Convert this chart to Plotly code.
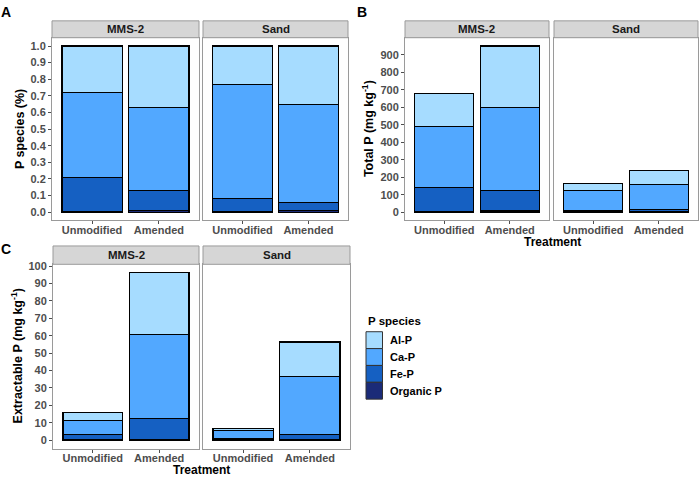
import plotly.graph_objects as go

# ---------------- data ----------------
treatments = ["Unmodified", "Amended"]
soils = ["MMS-2", "Sand"]
species = ["Organic P", "Fe-P", "Ca-P", "Al-P"]          # bottom -> top
species_colors = ["#1B2B78", "#1560C2", "#52A8FF", "#A6DCFF"]

# order of values: MMS-2 Unmodified, MMS-2 Amended, Sand Unmodified, Sand Amended
# Panel A: proportion of P species
prop_organic = [0.004, 0.008, 0.003, 0.008]
prop_fe = [0.206, 0.122, 0.077, 0.052]
prop_ca = [0.51, 0.50, 0.69, 0.59]
prop_al = [0.28, 0.37, 0.23, 0.35]

# Panel B: total P (mg kg-1)
total_organic = [3, 7, 2, 4]
total_fe = [140, 118, 9, 12]
total_ca = [347, 475, 114, 140]
total_al = [190, 350, 38, 83]

# Panel C: extractable P (mg kg-1)
ext_organic = [0.2, 0.6, 0.3, 0.4]
ext_fe = [3.2, 11.9, 0.4, 3.0]
ext_ca = [8.0, 48.0, 5.0, 33.2]
ext_al = [4.6, 35.7, 0.9, 19.8]

a_ticks = [0.0, 0.1, 0.2, 0.3, 0.4, 0.5, 0.6, 0.7, 0.8, 0.9, 1.0]
b_ticks = [0, 100, 200, 300, 400, 500, 600, 700, 800, 900]
c_ticks = [0, 10, 20, 30, 40, 50, 60, 70, 80, 90, 100]

# ---------------- layout geometry (pixels) ----------------
W, H = 700, 477
FONT = "Liberation Sans, Arial, sans-serif"
BORDER = "#9A9A9A"
TICKCOL = "#4D4D4D"


def px(x):
    return x / W


def py(y):
    return 1 - y / H


panels = [
    dict(label="A", data=[prop_organic, prop_fe, prop_ca, prop_al], ticks=a_ticks, fmt=".1f",
         facets=[(52, 199), (203, 348)], strip=(17, 34), plot=(34, 218.3),
         ytitle="P species (%)", ytitle_x=20, xtitle=None, lab=(6, 8)),
    dict(label="B", data=[total_organic, total_fe, total_ca, total_al], ticks=b_ticks, fmt="d",
         facets=[(405, 549), (554, 698)], strip=(17, 34), plot=(34, 218.3),
         ytitle="Total P (mg kg<sup>-1</sup>)", ytitle_x=368, xtitle=(552, 240), lab=(362, 8)),
    dict(label="C", data=[ext_organic, ext_fe, ext_ca, ext_al], ticks=c_ticks, fmt="d",
         facets=[(53, 199), (203, 350)], strip=(244, 262.5), plot=(262.5, 448.3),
         ytitle="Extractable P (mg kg<sup>-1</sup>)", ytitle_x=17, xtitle=(201, 469.5), lab=(6, 247)),
]

fig = go.Figure()
layout = dict(width=W, height=H, margin=dict(l=0, r=0, t=0, b=0),
              paper_bgcolor="white", plot_bgcolor="white", barmode="stack",
              showlegend=False, font=dict(family=FONT, color="#1A1A1A"))
shapes, annotations = [], []

ax = 0
for p in panels:
    totals = [sum(v[i] for v in p["data"]) for i in range(4)]
    ymax = max(totals)
    yrange = [-0.05 * ymax, 1.05 * ymax]
    top, bot = p["plot"]
    for f, soil in enumerate(soils):
        ax += 1
        xname = "xaxis" if ax == 1 else f"xaxis{ax}"
        yname = "yaxis" if ax == 1 else f"yaxis{ax}"
        xref = "x" if ax == 1 else f"x{ax}"
        yref = "y" if ax == 1 else f"y{ax}"
        x0, x1 = p["facets"][f]
        for s, sp in enumerate(species):
            vals = p["data"][s][2 * f: 2 * f + 2]
            fig.add_trace(go.Bar(x=treatments, y=vals, name=sp, width=0.9,
                                 marker=dict(color=species_colors[s], line=dict(color="black", width=1.2)),
                                 xaxis=xref, yaxis=yref, showlegend=False))
        layout[xname] = dict(domain=[px(x0), px(x1)], anchor=yref, type="category",
                             categoryorder="array", categoryarray=treatments,
                             range=[-0.6, 1.6], showline=True, mirror=True, linecolor=BORDER,
                             linewidth=1, ticks="outside", ticklen=3, tickcolor=TICKCOL,
                             ticklabelstandoff=-4,
                             showgrid=False, zeroline=False,
                             tickfont=dict(family=FONT, size=11, color=TICKCOL, weight="bold"))
        layout[yname] = dict(domain=[py(bot), py(top)], anchor=xref, range=yrange,
                             tickvals=p["ticks"], tickformat=p["fmt"],
                             showline=True, mirror=True, linecolor=BORDER, linewidth=1,
                             ticks="outside" if f == 0 else "", ticklen=3, tickcolor=TICKCOL,
                             showticklabels=(f == 0), showgrid=False, zeroline=False,
                             tickfont=dict(family=FONT, size=11, color=TICKCOL, weight="bold"))
        # strip header
        s0, s1 = p["strip"]
        shapes.append(dict(type="rect", xref="paper", yref="paper", x0=px(x0), x1=px(x1),
                           y0=py(s1), y1=py(s0), fillcolor="#D6D6D6", line=dict(color=BORDER, width=1)))
        annotations.append(dict(text=soil, xref="paper", yref="paper", x=px((x0 + x1) / 2),
                                y=py((s0 + s1) / 2), showarrow=False, xanchor="center", yanchor="middle",
                                font=dict(family=FONT, size=11.5, color="#1A1A1A", weight="bold")))
    # y title
    annotations.append(dict(text=p["ytitle"], xref="paper", yref="paper", x=px(p["ytitle_x"]),
                            y=py((top + bot) / 2), textangle=-90, showarrow=False,
                            xanchor="center", yanchor="middle",
                            font=dict(family=FONT, size=12.5, color="black", weight="bold")))
    if p["xtitle"]:
        annotations.append(dict(text="Treatment", xref="paper", yref="paper", x=px(p["xtitle"][0]),
                                y=py(p["xtitle"][1]), showarrow=False, xanchor="center", yanchor="middle",
                                font=dict(family=FONT, size=12, color="black", weight="bold")))
    annotations.append(dict(text=p["label"], xref="paper", yref="paper", x=px(p["lab"][0]),
                            y=py(p["lab"][1]), showarrow=False, xanchor="center", yanchor="middle",
                            font=dict(family=FONT, size=14, color="black", weight="bold")))

# manual legend (ggplot style)
annotations.append(dict(text="P species", xref="paper", yref="paper", x=px(366), y=py(319.5),
                        showarrow=False, xanchor="left", yanchor="middle",
                        font=dict(family=FONT, size=11.5, color="black", weight="bold")))
key_top = 330.5
key_h = 17
for i, s in enumerate(reversed(range(len(species)))):
    y0 = key_top + i * key_h
    shapes.append(dict(type="rect", xref="paper", yref="paper", x0=px(366), x1=px(382.5),
                       y0=py(y0 + key_h), y1=py(y0), fillcolor=species_colors[s],
                       line=dict(color="#333333", width=1)))
    annotations.append(dict(text=species[s], xref="paper", yref="paper", x=px(388),
                            y=py(y0 + key_h / 2), showarrow=False, xanchor="left", yanchor="middle",
                            font=dict(family=FONT, size=11, color="black", weight="bold")))

layout["shapes"] = shapes
layout["annotations"] = annotations
fig.update_layout(**layout)
fig.write_html("out.html")
